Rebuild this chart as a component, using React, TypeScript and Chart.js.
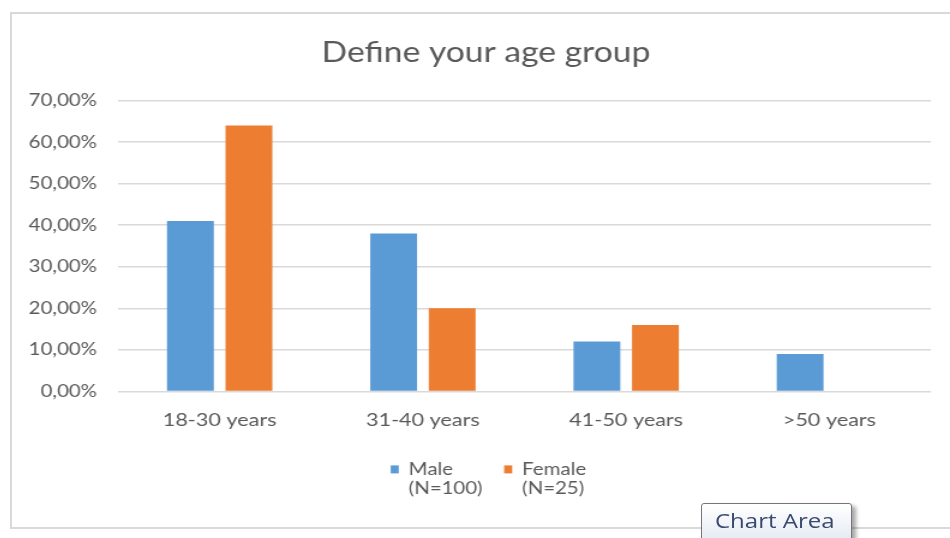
import React, { useEffect, useRef } from 'react';
import { Chart, registerables } from 'chart.js';

Chart.register(...registerables);

// ---------- data ----------
const titleText = 'Define your age group';
const categories = ['18-30 years', '31-40 years', '41-50 years', '>50 years'];
const maleValues = [0.41, 0.38, 0.12, 0.09];
const femaleValues = [0.64, 0.2, 0.16, 0];
const seriesNames = ['Male (N=100)', 'Female (N=25)'];
const legendLines = [
  ['Male', '(N=100)'],
  ['Female', '(N=25)'],
];
const yMin = 0;
const yMax = 0.7;
const yStep = 0.1;
const overlayText = 'Chart Area';

// ---------- styles ----------
const FONT = 'Lato';
const TEXT = '#595959';
const BLUE = '#5B9BD5';
const ORANGE = '#ED7D31';
const GRID = '#d9d9d9';
const FRAME_W = 952;
const FRAME_H = 517;
const CANVAS_W = 793;
const STRETCH = FRAME_W / CANVAS_W;

const fmtPct = (v: number) => (v * 100).toFixed(2).replace('.', ',') + '%';

const titlePlugin = {
  id: 'centeredTitle',
  afterDraw(chart: any) {
    const ctx = chart.ctx as CanvasRenderingContext2D;
    ctx.save();
    ctx.font = `28px ${FONT}`;
    ctx.fillStyle = TEXT;
    ctx.textAlign = 'center';
    ctx.textBaseline = 'middle';
    ctx.fillText(titleText, chart.width / 2, 41);
    ctx.restore();
  },
};

const legendPlugin = {
  id: 'twoLineLegend',
  afterDraw(chart: any) {
    const ctx = chart.ctx as CanvasRenderingContext2D;
    const area = chart.chartArea;
    ctx.save();
    ctx.font = `17px ${FONT}`;
    ctx.textBaseline = 'middle';
    ctx.textAlign = 'left';
    const boxW = 6.7;
    const boxH = 8;
    const boxGap = 8.3;
    const itemGap = 18;
    const lineGap = 19;
    const items = chart.data.datasets.map((ds: any, i: number) => {
      const lines = legendLines[i];
      const w = Math.max(...lines.map((l) => ctx.measureText(l).width));
      return { color: ds.backgroundColor, lines, w: boxW + boxGap + w };
    });
    const total =
      items.reduce((s: number, it: any) => s + it.w, 0) + itemGap * (items.length - 1);
    let x = chart.width / 2 + 2 - total / 2;
    const y0 = area.bottom + 74;
    items.forEach((it: any) => {
      ctx.fillStyle = it.color;
      ctx.fillRect(x, y0, boxW, boxH);
      ctx.fillStyle = TEXT;
      it.lines.forEach((l: string, j: number) => {
        ctx.fillText(l, x + boxW + boxGap, y0 + 4 + j * lineGap);
      });
      x += it.w + itemGap;
    });
    ctx.restore();
  },
};

export default function App() {
  const ref = useRef<HTMLCanvasElement | null>(null);

  useEffect(() => {
    if (!ref.current) return;
    const chart = new Chart(ref.current, {
      type: 'bar',
      data: {
        labels: categories,
        datasets: [
          {
            label: seriesNames[0],
            data: maleValues,
            backgroundColor: BLUE,
            borderWidth: 0,
            categoryPercentage: 0.576,
            barPercentage: 0.8,
          },
          {
            label: seriesNames[1],
            data: femaleValues,
            backgroundColor: ORANGE,
            borderWidth: 0,
            categoryPercentage: 0.576,
            barPercentage: 0.8,
          },
        ],
      },
      options: {
        responsive: false,
        animation: false,
        devicePixelRatio: 1,
        layout: { padding: { top: 88.6, left: 0, right: 25.8, bottom: 80 } },
        plugins: {
          legend: { display: false },
          tooltip: { enabled: false },
          title: { display: false },
        },
        scales: {
          x: {
            grid: { display: false, drawTicks: false },
            border: { display: false },
            ticks: {
              color: TEXT,
              font: { family: FONT, size: 18 },
              padding: 18,
              maxRotation: 0,
            },
          },
          y: {
            min: yMin,
            max: yMax,
            grid: { color: GRID, lineWidth: 1.5, drawTicks: false },
            border: { display: false },
            ticks: {
              stepSize: yStep,
              color: TEXT,
              font: { family: FONT, size: 17 },
              padding: 17.5,
              callback: (v: any) => fmtPct(Number(v)),
            },
            afterFit: (s: any) => {
              s.width = 90;
            },
          },
        },
      },
      plugins: [titlePlugin, legendPlugin],
    } as any);
    return () => chart.destroy();
  }, []);

  return (
    <div
      style={{
        position: 'fixed',
        left: 0,
        top: 0,
        width: 950,
        height: 538,
        overflow: 'hidden',
        background: '#fff',
      }}
    >
      <div
        style={{
          position: 'absolute',
          left: 10,
          top: 12,
          width: CANVAS_W,
          height: FRAME_H,
          transform: `scaleX(${STRETCH})`,
          transformOrigin: '0 0',
        }}
      >
        <canvas
          ref={ref}
          width={CANVAS_W}
          height={FRAME_H}
          style={{ display: 'block', width: CANVAS_W, height: FRAME_H }}
        />
      </div>
      <div
        style={{
          position: 'absolute',
          left: 10,
          top: 12,
          width: 1000,
          height: FRAME_H,
          border: `2px solid ${GRID}`,
          boxSizing: 'border-box',
          pointerEvents: 'none',
        }}
      />
      <div
        style={{
          position: 'absolute',
          left: 701,
          top: 503,
          width: 151,
          height: 42,
          border: '1px solid #767676',
          borderRadius: 3,
          background: 'linear-gradient(#ffffff, #e2e8f2)',
          boxShadow: '4px 3px 4px rgba(0,0,0,0.35)',
          boxSizing: 'border-box',
        }}
      >
        <span
          style={{
            position: 'absolute',
            left: 13,
            top: 7,
            fontFamily: '"Open Sans", sans-serif',
            fontSize: 20,
            lineHeight: '20px',
            color: '#3b4a6b',
            whiteSpace: 'nowrap',
            transform: 'scaleX(1.2)',
            transformOrigin: '0 0',
          }}
        >
          {overlayText}
        </span>
      </div>
    </div>
  );
}
